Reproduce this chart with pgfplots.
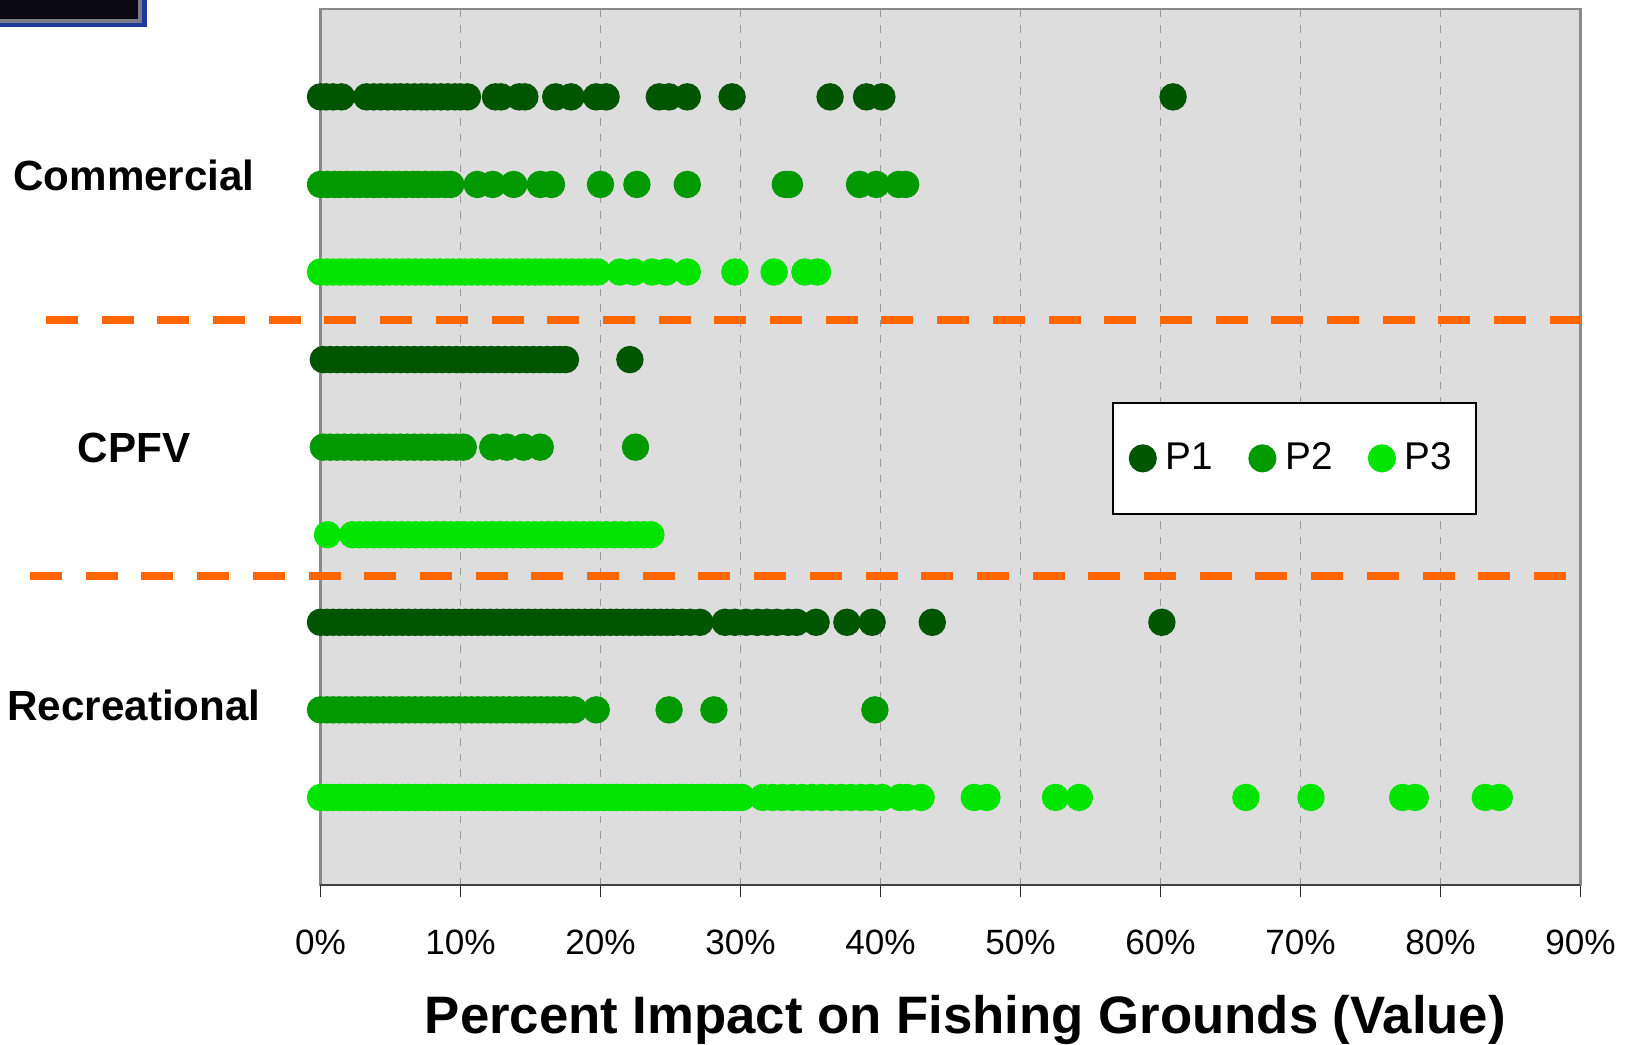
\documentclass[border=0pt]{standalone}
\usepackage{fontspec}
\setmainfont{Liberation Sans}
\usepackage{pgfplots}
\pgfplotsset{compat=1.18}
\definecolor{cP1}{HTML}{005500}
\definecolor{cP2}{HTML}{009900}
\definecolor{cP3}{HTML}{00E400}
\definecolor{bg}{HTML}{DDDDDD}
\definecolor{org}{HTML}{FF6600}
\definecolor{gridgray}{HTML}{999999}
\definecolor{axgray}{HTML}{8A8A8A}
\definecolor{navy}{HTML}{0B0A14}
\definecolor{frameblue}{HTML}{1B3A9A}
\definecolor{framegray}{HTML}{7A7A88}
\begin{document}
\begin{tikzpicture}
\path[use as bounding box] (0,0) rectangle (162.5mm,104.4mm);
% top-left fragment
\fill[frameblue] (0,104.4mm) rectangle (14.67mm,101.67mm);
\fill[framegray] (0,104.4mm) rectangle (14.17mm,102.13mm);
\fill[navy] (0,104.4mm) rectangle (13.83mm,102.47mm);
\begin{axis}[
  at={(32.05mm,15.9mm)}, anchor=south west,
  scale only axis, width=126mm, height=87.57mm,
  xmin=0, xmax=90, ymin=0, ymax=10,
  clip=false,
  axis background/.style={fill=bg},
  axis line style={draw=axgray, line width=0.6pt},
  xtick={0,10,...,90},
  xticklabels={0\%,10\%,20\%,30\%,40\%,50\%,60\%,70\%,80\%,90\%},
  xtick pos=bottom, ytick=\empty,
  tick align=outside, major tick length=1.2mm,
  tick style={black!85, line width=0.4pt},
  xmajorgrids,
  grid style={dash pattern=on 0.75mm off 0.8mm, gridgray, line width=0.35pt},
  xticklabel style={font=\fontsize{10}{12}\selectfont, anchor=base, yshift=-5.76mm},
  xlabel={Percent Impact on Fishing Grounds (Value)},
  xlabel style={font=\bfseries\fontsize{15}{18}\selectfont, at={(axis description cs:0.5118,0)}, anchor=base, yshift=-14.8mm},
  legend columns=3,
  legend cell align=left,
  legend image code/.code={\draw[#1] plot coordinates {(0.13cm,0cm)};},
  legend style={at={(axis description cs:0.773,0.4872)}, anchor=center,
    draw=black, line width=0.6pt, fill=white,
    inner xsep=1.7mm, inner ysep=3.25mm,
    font=\fontsize{11}{13}\selectfont,
    /tikz/every odd column/.append style={column sep=0.28mm},
    /tikz/every even column/.append style={column sep=2.94mm}},
  every axis plot/.append style={only marks, mark=*, mark size=3.7pt},
]
\addplot[cP1, mark options={fill=cP1, draw=none}] coordinates {
(0,9) (0.4,9) (0.9,9) (1.5,9) (3.3,9) (3.8,9) (4.3,9) (4.8,9) (5.3,9) (5.7,9) (6.2,9) (6.7,9) (7.2,9) (7.6,9) (8.1,9) (8.6,9) (9.1,9) (9.6,9) (10.0,9) (10.5,9)
(12.5,9) (12.9,9) (14.2,9) (14.6,9) (16.8,9) (17.9,9) (19.7,9) (20.4,9) (24.2,9) (24.9,9) (26.2,9) (29.4,9) (36.4,9) (39.0,9) (40.1,9) (60.9,9)
(0.2,6) (0.7,6) (1.2,6) (1.7,6) (2.2,6) (2.7,6) (3.2,6) (3.7,6) (4.2,6) (4.7,6) (5.2,6) (5.7,6) (6.2,6) (6.7,6) (7.2,6) (7.7,6) (8.2,6) (8.7,6) (9.2,6) (9.7,6)
(10.2,6) (10.7,6) (11.2,6) (11.7,6) (12.2,6) (12.7,6) (13.2,6) (13.7,6) (14.2,6) (14.7,6) (15.2,6) (15.7,6) (16.2,6) (16.7,6) (17.1,6) (17.5,6) (22.1,6)
(0,3) (0.45,3) (0.9,3) (1.35,3) (1.8,3) (2.25,3) (2.7,3) (3.15,3) (3.6,3) (4.05,3) (4.5,3) (4.95,3) (5.4,3) (5.85,3) (6.3,3) (6.75,3) (7.2,3) (7.65,3) (8.1,3) (8.55,3)
(9.0,3) (9.45,3) (9.9,3) (10.35,3) (10.8,3) (11.25,3) (11.7,3) (12.15,3) (12.6,3) (13.05,3) (13.5,3) (13.95,3) (14.4,3) (14.85,3) (15.3,3) (15.75,3) (16.2,3) (16.65,3) (17.1,3) (17.55,3)
(18.0,3) (18.45,3) (18.9,3) (19.35,3) (19.8,3) (20.25,3) (20.7,3) (21.15,3) (21.6,3) (22.05,3) (22.5,3) (22.95,3) (23.4,3) (23.85,3) (24.3,3) (24.75,3) (25.2,3) (25.8,3) (26.4,3) (27.1,3)
(28.9,3) (29.6,3) (30.4,3) (31.2,3) (31.9,3) (32.6,3) (33.4,3) (34.0,3) (35.4,3) (37.6,3) (39.4,3) (43.7,3) (60.1,3)
};
\addlegendentry{P1}
\addplot[cP2, mark options={fill=cP2, draw=none}] coordinates {
(0,8) (0.5,8) (1.0,8) (1.4,8) (1.9,8) (2.4,8) (2.8,8) (3.3,8) (3.8,8) (4.2,8) (4.7,8) (5.2,8) (5.6,8) (6.1,8) (6.6,8) (7.0,8) (7.5,8) (8.0,8) (8.4,8) (8.9,8) (9.3,8)
(11.2,8) (12.3,8) (13.8,8) (15.7,8) (16.5,8) (20.0,8) (22.6,8) (26.2,8) (33.2,8) (33.5,8) (38.5,8) (39.7,8) (41.3,8) (41.8,8)
(0.2,5) (0.7,5) (1.2,5) (1.7,5) (2.2,5) (2.7,5) (3.2,5) (3.7,5) (4.2,5) (4.7,5) (5.2,5) (5.7,5) (6.2,5) (6.7,5) (7.2,5) (7.7,5) (8.2,5) (8.7,5) (9.2,5) (9.7,5) (10.2,5)
(12.3,5) (13.3,5) (14.5,5) (15.7,5) (22.5,5)
(0,2) (0.45,2) (0.9,2) (1.35,2) (1.8,2) (2.25,2) (2.7,2) (3.15,2) (3.6,2) (4.05,2) (4.5,2) (4.95,2) (5.4,2) (5.85,2) (6.3,2) (6.75,2) (7.2,2) (7.65,2) (8.1,2) (8.55,2)
(9.0,2) (9.45,2) (9.9,2) (10.35,2) (10.8,2) (11.25,2) (11.7,2) (12.15,2) (12.6,2) (13.05,2) (13.5,2) (13.95,2) (14.4,2) (14.85,2) (15.3,2) (15.75,2) (16.2,2) (16.65,2) (17.1,2) (17.55,2)
(18.1,2) (19.7,2) (24.9,2) (28.1,2) (39.6,2)
};
\addlegendentry{P2}
\addplot[cP3, mark options={fill=cP3, draw=none}] coordinates {
(0,7) (0.45,7) (0.9,7) (1.35,7) (1.8,7) (2.25,7) (2.7,7) (3.15,7) (3.6,7) (4.05,7) (4.5,7) (4.95,7) (5.4,7) (5.85,7) (6.3,7) (6.75,7) (7.2,7) (7.65,7) (8.1,7) (8.55,7)
(9.0,7) (9.45,7) (9.9,7) (10.35,7) (10.8,7) (11.25,7) (11.7,7) (12.15,7) (12.6,7) (13.05,7) (13.5,7) (13.95,7) (14.4,7) (14.85,7) (15.3,7) (15.75,7) (16.2,7) (16.65,7) (17.1,7) (17.55,7)
(18.0,7) (18.45,7) (18.9,7) (19.35,7) (19.8,7) (21.4,7) (22.4,7) (23.7,7) (24.7,7) (26.2,7) (29.6,7) (32.4,7) (34.6,7) (35.5,7)
(0.5,4) (2.3,4) (2.8,4) (3.3,4) (3.8,4) (4.3,4) (4.8,4) (5.3,4) (5.8,4) (6.3,4) (6.8,4) (7.3,4) (7.8,4) (8.3,4) (8.8,4) (9.3,4) (9.8,4) (10.3,4) (10.8,4) (11.3,4)
(11.8,4) (12.3,4) (12.8,4) (13.3,4) (13.8,4) (14.3,4) (14.8,4) (15.3,4) (15.8,4) (16.3,4) (16.8,4) (17.3,4) (17.8,4) (18.3,4) (18.8,4) (19.3,4) (19.8,4) (20.4,4) (21.0,4) (21.5,4)
(22.1,4) (22.6,4) (23.1,4) (23.6,4)
(0,1) (0.45,1) (0.9,1) (1.35,1) (1.8,1) (2.25,1) (2.7,1) (3.15,1) (3.6,1) (4.05,1) (4.5,1) (4.95,1) (5.4,1) (5.85,1) (6.3,1) (6.75,1) (7.2,1) (7.65,1) (8.1,1) (8.55,1)
(9.0,1) (9.45,1) (9.9,1) (10.35,1) (10.8,1) (11.25,1) (11.7,1) (12.15,1) (12.6,1) (13.05,1) (13.5,1) (13.95,1) (14.4,1) (14.85,1) (15.3,1) (15.75,1) (16.2,1) (16.65,1) (17.1,1) (17.55,1)
(18.0,1) (18.45,1) (18.9,1) (19.35,1) (19.8,1) (20.25,1) (20.7,1) (21.15,1) (21.6,1) (22.05,1) (22.5,1) (22.95,1) (23.4,1) (23.85,1) (24.3,1) (24.75,1) (25.2,1) (25.65,1) (26.1,1) (26.55,1)
(27.0,1) (27.45,1) (27.9,1) (28.35,1) (28.8,1) (29.25,1) (29.7,1) (30.1,1)
(31.6,1) (32.3,1) (33.0,1) (33.7,1) (34.4,1) (35.1,1) (35.8,1) (36.5,1) (37.2,1) (37.9,1) (38.6,1) (39.3,1) (40.1,1) (41.4,1) (41.9,1) (42.9,1)
(46.7,1) (47.6,1) (52.5,1) (54.2,1) (66.1,1) (70.75,1) (77.3,1) (78.2,1) (83.2,1) (84.2,1)
};
\addlegendentry{P3}
% bottom axis line (darker)
\draw[black!75, line width=0.6pt] (axis description cs:0,0) -- (axis description cs:1,0);
% separators
\draw[org, line width=0.75mm, dash pattern=on 3.2mm off 2.37mm] (axis cs:-19.61,6.453) -- (axis cs:90.11,6.453);
\draw[org, line width=0.75mm, dash pattern=on 3.2mm off 2.37mm] (axis cs:-20.75,3.531) -- (axis cs:89.01,3.531);
% category labels
\node[font=\bfseries\fontsize{12}{14}\selectfont, anchor=base] at (axis cs:-13.32,7.93) {Commercial};
\node[font=\bfseries\fontsize{12}{14}\selectfont, anchor=base] at (axis cs:-13.32,4.821) {CPFV};
\node[font=\bfseries\fontsize{12}{14}\selectfont, anchor=base] at (axis cs:-13.32,1.88) {Recreational};
\end{axis}
\end{tikzpicture}
\end{document}
